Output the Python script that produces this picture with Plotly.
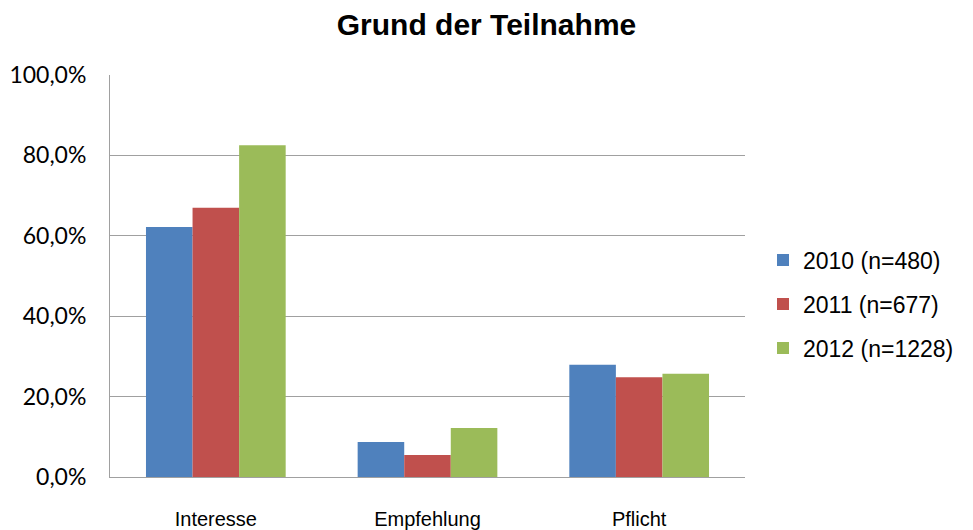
import plotly.graph_objects as go

categories = ["Interesse", "Empfehlung", "Pflicht"]
series_names = ["2010 (n=480)", "2011 (n=677)", "2012 (n=1228)"]
values_2010 = [62.2, 8.7, 27.9]
values_2011 = [67.0, 5.5, 24.8]
values_2012 = [82.5, 12.2, 25.7]
colors = ["#4F81BD", "#C0504D", "#9BBB59"]
y_ticks = [0, 20, 40, 60, 80, 100]
y_tick_labels = ["0,0%", "20,0%", "40,0%", "60,0%", "80,0%", "100,0%"]

fig = go.Figure()
for i, (name, vals) in enumerate(zip(series_names, [values_2010, values_2011, values_2012])):
    fig.add_trace(go.Bar(
        x=categories, y=vals, name=name,
        marker=dict(color=colors[i], line=dict(width=0)),
        legendgroup=name,
    ))

fig.update_layout(
    width=973, height=530,
    paper_bgcolor="white", plot_bgcolor="white",
    margin=dict(l=110, r=228, t=75, b=53),
    barmode="group", bargap=0.34, bargroupgap=0,
    title=dict(text="<b>Grund der Teilnahme</b>", x=0.5, xref="container", xanchor="center",
               y=1 - 24 / 530, yref="container", yanchor="middle",
               font=dict(family="Liberation Sans, Arial", size=30, color="black")),
    legend=dict(x=763 / 973, xref="container", xanchor="left", y=0.43, yanchor="middle",
                font=dict(family="Liberation Sans, Arial", size=23, color="black"),
                tracegroupgap=11, bgcolor="rgba(0,0,0,0)"),
    showlegend=True,
)
fig.update_xaxes(
    showline=True, linecolor="#A0A0A0", linewidth=1,
    ticks="", showgrid=False, automargin=False,
    tickfont=dict(family="Liberation Sans, Arial", size=20, color="black"),
    ticklabelstandoff=24,
)
fig.update_yaxes(
    range=[0, 100], tickvals=y_ticks, ticktext=y_tick_labels,
    showline=True, linecolor="#A0A0A0", linewidth=1,
    showgrid=True, gridcolor="#A0A0A0", gridwidth=1,
    ticks="",
    tickfont=dict(family="Lato, Open Sans", size=23, color="black"),
    ticklabelstandoff=18, automargin=False,
    zeroline=False,
)

fig.write_html("out.html", config={"displayModeBar": False},
               post_script="document.body.style.margin='0';document.body.style.padding='0';")
